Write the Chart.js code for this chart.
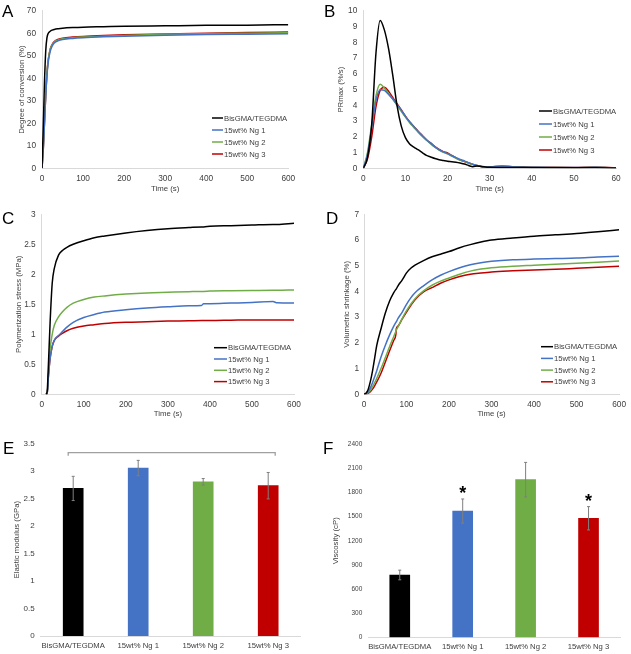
<!DOCTYPE html>
<html><head><meta charset="utf-8">
<script src="https://cdn.jsdelivr.net/npm/chart.js@4"></script>
<style>
html,body{margin:0;padding:0;background:#fff;}
body{width:631px;height:654px;position:relative;overflow:hidden;font-family:"Liberation Sans",Arial,sans-serif;}
canvas{position:absolute;}
.lbl{position:absolute;font-size:17px;line-height:17px;color:#000;}
</style></head><body>
<canvas id="cA" style="left:0px;top:0px"></canvas>
<canvas id="cB" style="left:315px;top:0px"></canvas>
<canvas id="cC" style="left:0px;top:190px"></canvas>
<canvas id="cD" style="left:315px;top:190px"></canvas>
<canvas id="cE" style="left:0px;top:415px"></canvas>
<canvas id="cF" style="left:315px;top:415px"></canvas>
<div class="lbl" style="left:2px;top:3px">A</div>
<div class="lbl" style="left:324px;top:3px">B</div>
<div class="lbl" style="left:2px;top:210px">C</div>
<div class="lbl" style="left:326px;top:210px">D</div>
<div class="lbl" style="left:3px;top:440px">E</div>
<div class="lbl" style="left:323px;top:440px">F</div>
<script>
// ---------- data ----------
const seriesNames = ['BisGMA/TEGDMA', '15wt% Ng 1', '15wt% Ng 2', '15wt% Ng 3'];
const seriesColors = ['#000000', '#4472C4', '#70AD47', '#C00000'];

// A: degree of conversion (%)
const timeA = [0, 3, 6, 9, 12, 15, 20, 25, 30, 40, 50, 75, 100, 150, 200, 300, 400, 500, 600];
const dcBis = [0, 18, 38, 52, 58, 60, 61, 61.5, 61.8, 62.1, 62.3, 62.6, 62.8, 63.0, 63.2, 63.4, 63.6, 63.7, 63.9];
const dcNg1 = [0, 8, 20, 32, 41, 47, 52, 54.5, 55.8, 56.8, 57.3, 57.8, 58.1, 58.5, 58.8, 59.2, 59.5, 59.7, 59.9];
const dcNg2 = [0, 9, 21, 33, 42, 48, 53, 55, 56.2, 57.1, 57.6, 58.1, 58.4, 58.8, 59.1, 59.6, 59.9, 60.1, 60.3];
const dcNg3 = [0, 8, 20, 32, 42, 48, 53, 55.2, 56.4, 57.4, 57.9, 58.4, 58.7, 59.1, 59.4, 59.8, 60.1, 60.4, 60.6];

// B: polymerization rate (%/s)
const timeB = [0,1,2,3,4,5,6,7,8,9,10,11,12,13,14,15,16,17,18,19,20,21,22,23,24,25,26,27,28,30,33,36,40,45,50,55,60];
const prBis = [0,0.7,2.8,7.3,9.4,8.8,7.6,5.9,4.0,2.7,1.95,1.55,1.35,1.18,1.0,0.82,0.72,0.62,0.55,0.5,0.45,0.42,0.38,0.33,0.27,0.18,0.1,0.15,0.12,0.06,0.05,0.05,0.04,0.04,0.03,0.03,0.02];
const prNg1 = [0,0.9,2.6,4.3,5.0,4.95,4.7,4.4,4.05,3.7,3.3,2.95,2.65,2.35,2.08,1.82,1.58,1.36,1.18,1.04,0.93,0.8,0.68,0.56,0.47,0.36,0.26,0.18,0.12,0.08,0.15,0.08,0.07,0.05,0.05,0.06,0.02];
const prNg2 = [0,1.0,2.8,4.6,5.35,5.1,4.75,4.4,4.0,3.62,3.25,2.9,2.6,2.3,2.03,1.78,1.55,1.34,1.16,1.02,0.92,0.78,0.64,0.52,0.44,0.34,0.24,0.17,0.11,0.08,0.14,0.08,0.06,0.05,0.04,0.07,0.02];
const prNg3 = [0,0.6,2.0,3.9,4.95,5.15,4.9,4.5,4.1,3.72,3.32,2.96,2.66,2.36,2.08,1.8,1.62,1.38,1.2,1.06,0.98,0.82,0.66,0.52,0.43,0.34,0.25,0.18,0.12,0.1,0.13,0.09,0.08,0.06,0.05,0.08,0.02];

// C: polymerization stress (MPa)
const timeC = [10, 13, 16, 20, 25, 30, 40, 50, 60, 75, 100, 125, 150, 200, 250, 300, 350, 380, 385, 400, 450, 500, 550, 560, 600];
const psBis = [0, 0.05, 0.5, 1.2, 1.85, 2.1, 2.32, 2.4, 2.45, 2.5, 2.56, 2.61, 2.64, 2.69, 2.73, 2.76, 2.78, 2.79, 2.79, 2.8, 2.81, 2.82, 2.83, 2.83, 2.85];
const psNg1 = [0, 0, 0.3, 0.6, 0.8, 0.9, 0.98, 1.05, 1.12, 1.2, 1.28, 1.33, 1.37, 1.41, 1.44, 1.46, 1.475, 1.48, 1.51, 1.51, 1.52, 1.53, 1.545, 1.525, 1.52];
const psNg2 = [0, 0, 0.35, 0.75, 1.0, 1.15, 1.29, 1.38, 1.45, 1.52, 1.58, 1.62, 1.64, 1.67, 1.69, 1.7, 1.71, 1.715, 1.715, 1.72, 1.725, 1.73, 1.735, 1.735, 1.74];
const psNg3 = [0, 0, 0.3, 0.6, 0.8, 0.9, 0.97, 1.02, 1.06, 1.1, 1.14, 1.16, 1.18, 1.2, 1.21, 1.22, 1.225, 1.23, 1.23, 1.23, 1.235, 1.24, 1.24, 1.24, 1.24];

// D: volumetric shrinkage (%)
const timeD = [0, 5, 10, 15, 20, 25, 30, 40, 50, 60, 70, 75, 76, 80, 90, 100, 110, 120, 140, 160, 180, 200, 225, 250, 275, 300, 350, 400, 450, 500, 550, 600];
const vsBis = [0, 0.05, 0.2, 0.5, 0.9, 1.4, 1.9, 2.55, 3.15, 3.62, 3.95, 4.08, 4.1, 4.22, 4.45, 4.72, 4.9, 5.02, 5.2, 5.35, 5.45, 5.55, 5.7, 5.82, 5.92, 6.0, 6.08, 6.15, 6.2, 6.25, 6.32, 6.4];
const vsNg1 = [0, 0.02, 0.1, 0.25, 0.45, 0.68, 0.92, 1.45, 1.9, 2.3, 2.65, 2.8, 2.82, 2.95, 3.2, 3.5, 3.75, 3.95, 4.22, 4.45, 4.63, 4.77, 4.92, 5.04, 5.12, 5.17, 5.23, 5.26, 5.28, 5.3, 5.34, 5.37];
const vsNg2 = [0, 0.02, 0.06, 0.15, 0.3, 0.45, 0.62, 1.0, 1.42, 1.85, 2.25, 2.45, 2.5, 2.62, 2.95, 3.25, 3.5, 3.72, 4.02, 4.24, 4.4, 4.52, 4.67, 4.79, 4.87, 4.92, 4.98, 5.02, 5.06, 5.1, 5.14, 5.18];
const vsNg3 = [0, 0, 0.04, 0.1, 0.2, 0.33, 0.48, 0.82, 1.25, 1.68, 2.1, 2.33, 2.55, 2.65, 2.93, 3.2, 3.45, 3.68, 3.98, 4.15, 4.32, 4.45, 4.58, 4.67, 4.72, 4.76, 4.8, 4.83, 4.86, 4.9, 4.94, 4.98];

// E: elastic modulus (GPa)
const modulus = [2.68, 3.05, 2.80, 2.73];
const modulusErr = [0.22, 0.14, 0.06, 0.24];
const modulusBracket = 3.33;

// F: viscosity (cP)
const viscosity = [775, 1570, 1960, 1480];
const viscosityErr = [60, 150, 215, 145];
const viscositySignificant = [false, true, false, true];

// ---------- styling helpers ----------
const FONT = "'Liberation Sans', Arial, sans-serif";
const TXT = '#404040';
const AXIS = '#d9d9d9';
Chart.defaults.font.family = FONT;
Chart.defaults.color = TXT;
const plainTick = v => String(Math.round(v * 1000) / 1000);

const legendInside = {
  id: 'legendInside',
  afterDraw(chart, args, o) {
    const ctx = chart.ctx;
    ctx.save();
    ctx.font = o.size + 'px ' + FONT;
    ctx.textBaseline = 'middle';
    ctx.textAlign = 'left';
    chart.data.datasets.forEach((ds, i) => {
      const y = o.y + i * o.gap;
      ctx.strokeStyle = ds.borderColor; ctx.lineWidth = ds.borderWidth;
      ctx.beginPath(); ctx.moveTo(o.x, y); ctx.lineTo(o.x + o.len, y); ctx.stroke();
      ctx.fillStyle = TXT;
      ctx.fillText(ds.label, o.x + o.len + 1, y + 0.5);
    });
    ctx.restore();
  }
};

const errorBars = {
  id: 'errorBars',
  afterDatasetsDraw(chart, args, o) {
    const ctx = chart.ctx, ys = chart.scales.y;
    const meta = chart.getDatasetMeta(0);
    const vals = chart.data.datasets[0].data;
    ctx.save();
    ctx.strokeStyle = o.color; ctx.lineWidth = 1;
    meta.data.forEach((bar, i) => {
      const yt = ys.getPixelForValue(vals[i] + o.errors[i]);
      const yb = ys.getPixelForValue(vals[i] - o.errors[i]);
      ctx.beginPath();
      ctx.moveTo(bar.x, yt); ctx.lineTo(bar.x, yb);
      ctx.moveTo(bar.x - o.cap, yt); ctx.lineTo(bar.x + o.cap, yt);
      ctx.moveTo(bar.x - o.cap, yb); ctx.lineTo(bar.x + o.cap, yb);
      ctx.stroke();
      if (o.flags && o.flags[i]) {
        ctx.fillStyle = '#000';
        ctx.font = 'bold ' + o.markSize + 'px ' + FONT;
        ctx.textAlign = 'center'; ctx.textBaseline = 'alphabetic';
        ctx.fillText('*', bar.x, yt - o.markOffset + 0.57 * o.markSize);
      }
    });
    if (o.bracket !== undefined) {
      const first = meta.data[0], last = meta.data[meta.data.length - 1];
      const y = ys.getPixelForValue(o.bracket);
      ctx.strokeStyle = o.bracketColor; ctx.lineWidth = 1.3;
      ctx.beginPath();
      ctx.moveTo(first.x - 5, y + 3); ctx.lineTo(first.x - 5, y);
      ctx.lineTo(last.x + 7, y); ctx.lineTo(last.x + 7, y + 3);
      ctx.stroke();
    }
    ctx.restore();
  }
};

function frameScales(f) {
  const lh = f.titleSize * 1.2;
  const tf = {size: f.titleSize};
  const x = {
    grid: {display: false, drawTicks: false},
    border: {display: true, color: AXIS, width: 1},
    ticks: {font: {size: f.tickSize}, padding: f.xPad, color: TXT, maxRotation: 0, minRotation: 0, autoSkip: false},
    afterFit: s => { s.height = f.H - f.area.b; }
  };
  if (f.xTitle) x.title = {display: true, text: f.xTitle, font: tf, color: TXT, padding: {top: 0, bottom: f.H - f.xTitleCY - lh / 2}};
  const y = {
    min: f.y[0], max: f.y[1],
    grid: {display: false, drawTicks: false},
    border: {display: f.yLine, color: AXIS, width: 1},
    ticks: {stepSize: f.y[2], font: {size: f.yTickSize || f.tickSize}, padding: f.yPad, color: TXT, callback: plainTick},
    title: {display: true, text: f.yTitle, font: tf, color: TXT, padding: {top: f.yTitleCX - lh / 2, bottom: 0}},
    afterFit: s => { s.width = f.area.l; }
  };
  return {x, y};
}

function setupCanvas(id, W, H) {
  const c = document.getElementById(id);
  c.width = W; c.height = H;
  c.style.width = W + 'px'; c.style.height = H + 'px';
  return c;
}

function lineChart(id, f, times, series) {
  const c = setupCanvas(id, f.W, f.H);
  const sc = frameScales(f);
  sc.x.type = 'linear'; sc.x.min = f.x[0]; sc.x.max = f.x[1];
  sc.x.ticks.stepSize = f.x[2]; sc.x.ticks.callback = plainTick;
  return new Chart(c, {
    type: 'line',
    data: {
      datasets: series.map((vals, i) => ({
        label: seriesNames[i],
        data: vals.map((v, k) => ({x: times[k], y: v})),
        borderColor: seriesColors[i],
        borderWidth: 1.5,
        pointRadius: 0,
        fill: false,
        cubicInterpolationMode: 'monotone'
      }))
    },
    options: {
      responsive: false, animation: false,
      layout: {padding: {left: 0, top: f.area.t, right: f.W - f.area.r, bottom: 0}},
      scales: sc,
      plugins: {legend: {display: false}, tooltip: {enabled: false}, legendInside: f.legend}
    },
    plugins: [legendInside]
  });
}

function barChart(id, f, values, errOpts) {
  const c = setupCanvas(id, f.W, f.H);
  const sc = frameScales(f);
  sc.x.type = 'category'; sc.x.offset = true;
  return new Chart(c, {
    type: 'bar',
    data: {
      labels: seriesNames,
      datasets: [{data: values, backgroundColor: seriesColors, borderWidth: 0, barThickness: 20}]
    },
    options: {
      responsive: false, animation: false,
      layout: {padding: {left: 0, top: f.area.t, right: f.W - f.area.r, bottom: 0}},
      scales: sc,
      plugins: {legend: {display: false}, tooltip: {enabled: false}, errorBars: errOpts}
    },
    plugins: [errorBars]
  });
}

// ---------- charts ----------
lineChart('cA', {
  W: 315, H: 200, area: {l: 42, t: 7.3, r: 288.3, b: 168.3},
  x: [0, 600, 100], y: [0, 70, 10], yLine: true,
  tickSize: 8.3, titleSize: 7.8, xPad: 5, yPad: 6,
  yTitle: 'Degree of conversion (%)', yTitleCX: 22,
  xTitle: 'Time (s)', xTitleCY: 189,
  legend: {x: 212, y: 118, gap: 12, len: 11, size: 7.7}
}, timeA, [dcBis, dcNg1, dcNg2, dcNg3]);

lineChart('cB', {
  W: 316, H: 200, area: {l: 48.3, t: 6.7, r: 301, b: 168.3},
  x: [0, 60, 10], y: [0, 10, 1], yLine: true,
  tickSize: 8.3, titleSize: 7.8, xPad: 5, yPad: 6,
  yTitle: 'PRmax (%/s)', yTitleCX: 26,
  xTitle: 'Time (s)', xTitleCY: 189,
  legend: {x: 224, y: 111, gap: 13, len: 13, size: 7.7}
}, timeB, [prBis, prNg1, prNg2, prNg3]);

lineChart('cC', {
  W: 315, H: 232, area: {l: 41.7, t: 24.3, r: 294, b: 204.3},
  x: [0, 600, 100], y: [0, 3, 0.5], yLine: true,
  tickSize: 8.3, titleSize: 7.8, xPad: 5, yPad: 6,
  yTitle: 'Polymerization stress (MPa)', yTitleCX: 18.5,
  xTitle: 'Time (s)', xTitleCY: 224,
  legend: {x: 214, y: 157.7, gap: 11.3, len: 13, size: 7.7}
}, timeC, [psBis, psNg1, psNg2, psNg3]);

lineChart('cD', {
  W: 316, H: 232, area: {l: 49, t: 24.3, r: 307.3, b: 204.3},
  x: [0, 600, 100], y: [0, 7, 1], yLine: true,
  tickSize: 8.3, titleSize: 7.8, xPad: 5, yPad: 5,
  yTitle: 'Volumetric shrinkage (%)', yTitleCX: 31.5,
  xTitle: 'Time (s)', xTitleCY: 224,
  legend: {x: 226, y: 156.7, gap: 11.7, len: 12, size: 7.7}
}, timeD, [vsBis, vsNg1, vsNg2, vsNg3]);

barChart('cE', {
  W: 315, H: 239, area: {l: 40.7, t: 28.3, r: 300.7, b: 221},
  y: [0, 3.5, 0.5], yLine: false,
  tickSize: 7.7, yTickSize: 8, titleSize: 7.8, xPad: 5, yPad: 6,
  yTitle: 'Elastic modulus (GPa)', yTitleCX: 16.7
}, modulus, {errors: modulusErr, color: '#7f7f7f', cap: 1.5, bracket: modulusBracket, bracketColor: '#a0a0a0'});

barChart('cF', {
  W: 316, H: 239, area: {l: 53.3, t: 29.3, r: 305, b: 222.3},
  y: [0, 2400, 300], yLine: false,
  tickSize: 7.7, yTickSize: 6.5, titleSize: 7.8, xPad: 5, yPad: 6,
  yTitle: 'Viscosity (cP)', yTitleCX: 20.8
}, viscosity, {errors: viscosityErr, color: '#7f7f7f', cap: 1.5, flags: viscositySignificant, markSize: 18, markOffset: 10});
</script>
</body></html>
